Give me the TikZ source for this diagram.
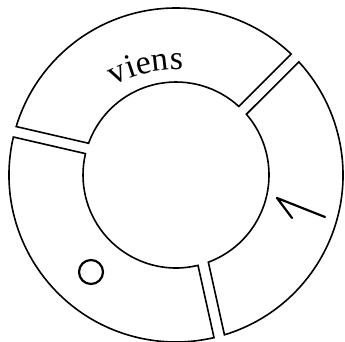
\documentclass[tikz,border=0pt]{standalone}
\usepackage{fontspec}
\newfontfamily\vfont{Liberation Serif}
\usetikzlibrary{decorations.text}
\tikzset{
  seg/.style={draw=black, line width=1.6pt, line join=miter, fill=white},
  markstroke/.style={draw=black, line width=2.2pt, line cap=round, line join=round}
}
\begin{document}
\begin{tikzpicture}
\useasboundingbox (-176pt,-167pt) rectangle (169pt,175pt);
% segment 1 (top)
\draw[seg] (46.37:167pt) arc[start angle=46.37, end angle=163.14, radius=167pt]
  -- (160.05:93pt) arc[start angle=160.05, end angle=47.46, radius=93pt] -- cycle;
% segment 2 (bottom left)
\draw[seg] (166.85:167pt) arc[start angle=166.85, end angle=283.16, radius=167pt]
  -- (283.68:93pt) arc[start angle=283.68, end angle=166.72, radius=93pt] -- cycle;
% segment 3 (right)
\draw[seg] (286.87:167pt) arc[start angle=286.87, end angle=402.66, radius=167pt]
  -- (400.80:93pt) arc[start angle=400.80, end angle=290.36, radius=93pt] -- cycle;
% curved label
\path[decorate, decoration={text along path, text align=center,
  text={|\vfont\fontsize{34}{34}\selectfont|viens}}]
  ([shift={(0pt,-26pt)}]162.6:131pt) arc[start angle=162.6, end angle=42.6, radius=131pt];
% marks
\coordinate (htip) at (101pt,-23pt);
\coordinate (htail) at (149pt,-42pt);
\coordinate (hbarb) at (116pt,-43pt);
\draw[markstroke] (htail) -- (htip) -- (hbarb);
\coordinate (ocenter) at (-85pt,-97pt);
\draw[markstroke] (ocenter) circle[radius=12pt];
\end{tikzpicture}
\end{document}
